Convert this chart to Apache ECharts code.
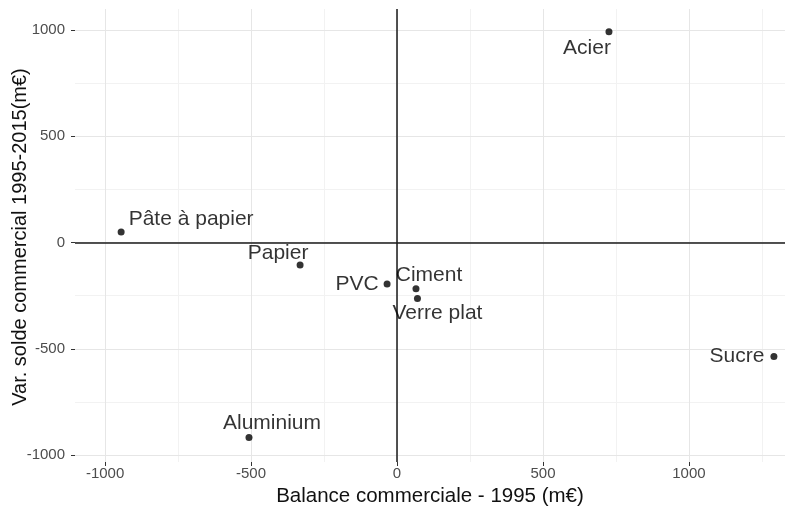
<!DOCTYPE html>
<html>
<head>
<meta charset="utf-8">
<script src="https://cdn.jsdelivr.net/npm/echarts@6/dist/echarts.min.js"></script>
<style>
  html, body { margin: 0; padding: 0; background: #fff; }
  #chart { width: 801px; height: 509px; }
</style>
</head>
<body>
<div id="chart"></div>
<script>
// données
var produits = ['Acier', 'Pâte à papier', 'Papier', 'PVC', 'Ciment', 'Verre plat', 'Sucre', 'Aluminium'];
var balance1995 = [726, -945, -332, -34, 65, 70, 1291, -507];
var varSolde = [992, 50, -106, -195, -218, -264, -537, -918];

var ticksMajor = [-1000, -500, 0, 500, 1000];
var xMinor = [-750, -250, 250, 750, 1250];
var yMinor = [-750, -250, 250, 750];

// décalage des étiquettes (px) par rapport au point
var labelOffsets = [[-22, 16], [70, -13], [-22, -12], [-30, 0], [13, -14], [20, 15], [-37, 0], [23, -14]];

var myChart = echarts.init(document.getElementById('chart'));

var points = produits.map(function (p, i) {
    return {
        name: p,
        value: [balance1995[i], varSolde[i]],
        label: { offset: labelOffsets[i] }
    };
});

function vLines(vals, color) {
    return vals.map(function (v) { return { xAxis: v, lineStyle: { color: color } }; });
}
function hLines(vals, color) {
    return vals.map(function (v) { return { yAxis: v, lineStyle: { color: color } }; });
}

var tickFmt = function (v) { return String(v); };

var option = {
    animation: false,
    textStyle: { fontFamily: 'Liberation Sans, Arial, sans-serif' },
    grid: { left: 75, right: 16, top: 9, bottom: 47, outerBoundsMode: 'none' },
    // titre de l'axe vertical
    graphic: [{
        type: 'text',
        x: 20,
        y: 237,
        rotation: Math.PI / 2,
        style: {
            text: 'Var. solde commercial 1995-2015(m€)',
            font: '20px Liberation Sans, Arial, sans-serif',
            fill: '#111',
            align: 'center',
            verticalAlign: 'middle'
        }
    }],
    xAxis: {
        type: 'value',
        min: -1103,
        max: 1329,
        name: 'Balance commerciale - 1995 (m€)',
        nameLocation: 'middle',
        nameGap: 24,
        nameTextStyle: { color: '#111', fontSize: 20.5 },
        axisLine: { show: false, onZero: false },
        splitLine: { show: false },
        axisTick: { show: true, customValues: ticksMajor, length: 4, lineStyle: { color: '#333', width: 1 } },
        axisLabel: { customValues: ticksMajor, formatter: tickFmt, color: '#4d4d4d', fontSize: 15, margin: 4 }
    },
    yAxis: {
        type: 'value',
        min: -1033,
        max: 1099,
        axisLine: { show: false, onZero: false },
        splitLine: { show: false },
        axisTick: { show: true, customValues: ticksMajor, length: 4, lineStyle: { color: '#333', width: 1 } },
        axisLabel: { customValues: ticksMajor, formatter: tickFmt, color: '#4d4d4d', fontSize: 15, margin: 10 }
    },
    series: [
        {
            // quadrillage
            type: 'scatter',
            data: [],
            silent: true,
            markLine: {
                silent: true,
                symbol: 'none',
                label: { show: false },
                lineStyle: { type: 'solid', width: 1 },
                data: vLines(xMinor, '#f2f2f2').concat(hLines(yMinor, '#f2f2f2'))
                    .concat(vLines(ticksMajor, '#e6e6e6')).concat(hLines(ticksMajor, '#e6e6e6'))
            }
        },
        {
            // axes du zéro
            type: 'scatter',
            data: [],
            silent: true,
            markLine: {
                silent: true,
                symbol: 'none',
                label: { show: false },
                lineStyle: { type: 'solid', width: 1.5, color: '#1a1a1a' },
                data: [{ xAxis: 0 }, { yAxis: 0 }]
            }
        },
        {
            type: 'scatter',
            symbolSize: 7,
            itemStyle: { color: '#000' },
            z: 5,
            label: {
                show: true,
                position: 'inside',
                formatter: '{b}',
                color: '#000',
                fontSize: 21
            },
            data: points
        }
    ]
};

myChart.setOption(option);
</script>
</body>
</html>
